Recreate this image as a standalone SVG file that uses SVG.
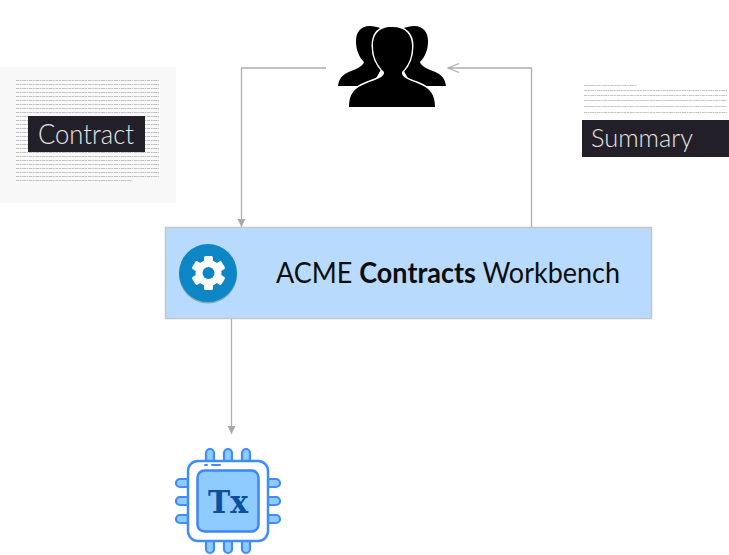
<svg xmlns="http://www.w3.org/2000/svg" width="729" height="555" viewBox="0 0 729 555">
<style>
.c{fill:none;stroke:#adadad;stroke-width:1.3}
.t{font-family:"Lato","Liberation Sans",sans-serif}
.l{fill:none;stroke:#8a8a8a;stroke-width:1;stroke-dasharray:3 .6 2 .7 4 .6 1.5 .7;opacity:.5}
.pin{fill:#8fcbff;stroke:#3f8cff;stroke-width:2.200}
</style>
<defs>
<marker id="a" markerWidth="9" markerHeight="9" refX="8" refY="4" orient="auto" markerUnits="userSpaceOnUse"><path d="M0 0L8 4L0 8Z" fill="#a9a9a9"/></marker>
<marker id="o" markerWidth="13" markerHeight="12" refX="12" refY="5.500" orient="auto" markerUnits="userSpaceOnUse"><path d="M1 1L12 5.500L1 10" fill="none" stroke="#adadad" stroke-width="1.300"/></marker>
</defs>
<g id="contract">
<rect x="0" y="67" width="176" height="136" fill="#f8f8f8"/>
<path class="l" d="M16 80.500H159M16 84.500H159M16 88.500H159M16 92.500H159M16 96.500H159M16 100.500H159M16 104.500H159M16 108.500H159M16 112.500H159M16 116.500H159M16 120.500H159M16 124.500H159M16 128.500H159M16 132.500H159M16 136.500H159M16 140.500H159M16 144.500H159M16 148.500H159M16 152.500H159M16 156.500H159M16 160.500H159M16 164.500H159M16 168.500H159M16 172.500H159M16 176.500H159M16 180.500H132"/>
<rect x="28" y="116" width="117" height="36" fill="#231f29"/>
<text class="t" x="38" y="144" font-size="27" font-weight="300" fill="#e6e6e6" textLength="96" lengthAdjust="spacingAndGlyphs">Contract</text>
</g>
<g id="summary">
<path class="l" d="M584 85.500H637M584 90.500H727M584 95.500H727M584 100.500H727M584 106.500H727M584 112.500H727"/>
<rect x="582" y="120" width="147" height="37" fill="#231f29"/>
<text class="t" x="591" y="147" font-size="25" font-weight="300" fill="#e6e6e6" textLength="102" lengthAdjust="spacingAndGlyphs">Summary</text>
</g>
<g id="users">
<path d="M370 26C360 26 356 33 356 41C356 50 359 57 364 62C363 66 357 69 351 71C343 74 339 78 338 86H372L386 60L386 40L380 28C377 27 374 26 370 26Z" fill="#000"/>
<path d="M414 26C424 26 428 33 428 41C428 50 425 57 420 62C421 66 427 69 433 71C441 74 445 78 446 86H412L398 60L398 40L404 28C407 27 410 26 414 26Z" fill="#000"/>
<path d="M392 27C378 27 373 35 373 46C373 58 378 66 384 72C385 77 375 80 367 83C354 88 349 94 349 107H435C435 94 430 88 417 83C409 80 401 77 402 72C408 66 412 58 412 46C412 35 406 27 392 27Z" fill="#000" stroke="#fff" stroke-width="3" paint-order="stroke"/>
</g>
<g id="workbench">
<rect x="165.500" y="227.500" width="486" height="91" fill="#b8dbfd" stroke="#c6c6c6" stroke-width="1.500"/>
<circle cx="208" cy="274.500" r="29" fill="#7fa6c2"/>
<circle cx="208" cy="273" r="29" fill="#0c86c4"/>
<g fill="#fff">
<circle cx="208.500" cy="273" r="13"/>
<rect x="204" y="256" width="9" height="34" rx="1.500"/>
<rect x="204" y="256" width="9" height="34" rx="1.500" transform="rotate(60 208.500 273)"/>
<rect x="204" y="256" width="9" height="34" rx="1.500" transform="rotate(120 208.500 273)"/>
</g>
<circle cx="208.500" cy="273" r="6" fill="#0c86c4"/>
<text class="t" x="276" y="283" font-size="28" fill="#0d0d0d" textLength="344" lengthAdjust="spacingAndGlyphs">ACME <tspan font-weight="700">Contracts</tspan> Workbench</text>
</g>
<g id="chip">
<rect class="pin" x="206" y="449" width="8" height="16" rx="4"/><rect class="pin" x="224" y="449" width="8" height="16" rx="4"/><rect class="pin" x="242" y="449" width="8" height="16" rx="4"/>
<rect class="pin" x="206" y="537" width="8" height="16" rx="4"/><rect class="pin" x="224" y="537" width="8" height="16" rx="4"/><rect class="pin" x="242" y="537" width="8" height="16" rx="4"/>
<rect class="pin" x="176" y="479" width="16" height="8" rx="4"/><rect class="pin" x="176" y="497" width="16" height="8" rx="4"/><rect class="pin" x="176" y="515" width="16" height="8" rx="4"/>
<rect class="pin" x="264" y="479" width="16" height="8" rx="4"/><rect class="pin" x="264" y="497" width="16" height="8" rx="4"/><rect class="pin" x="264" y="515" width="16" height="8" rx="4"/>
<rect x="188" y="461" width="80" height="80" rx="10" fill="#fff" stroke="#3f8cff" stroke-width="2.500"/>
<path d="M205 465H207M212 465H220" stroke="#3f8cff" stroke-width="2" stroke-linecap="round" fill="none"/>
<rect x="197.500" y="470.500" width="61" height="61" rx="7" fill="#8fcbff" stroke="#3f86f5" stroke-width="2.500"/>
<text x="208" y="513" font-family="'DejaVu Serif',serif" font-weight="700" font-size="31" fill="#0b4f9e" textLength="40" lengthAdjust="spacingAndGlyphs">Tx</text>
</g>
<g id="connectors">
<path class="c" d="M326 68H241.500V227" marker-end="url(#a)"/>
<path class="c" d="M531.500 227V68H448" marker-end="url(#o)"/>
<path class="c" d="M231.500 319V434" marker-end="url(#a)"/>
</g>
</svg>
